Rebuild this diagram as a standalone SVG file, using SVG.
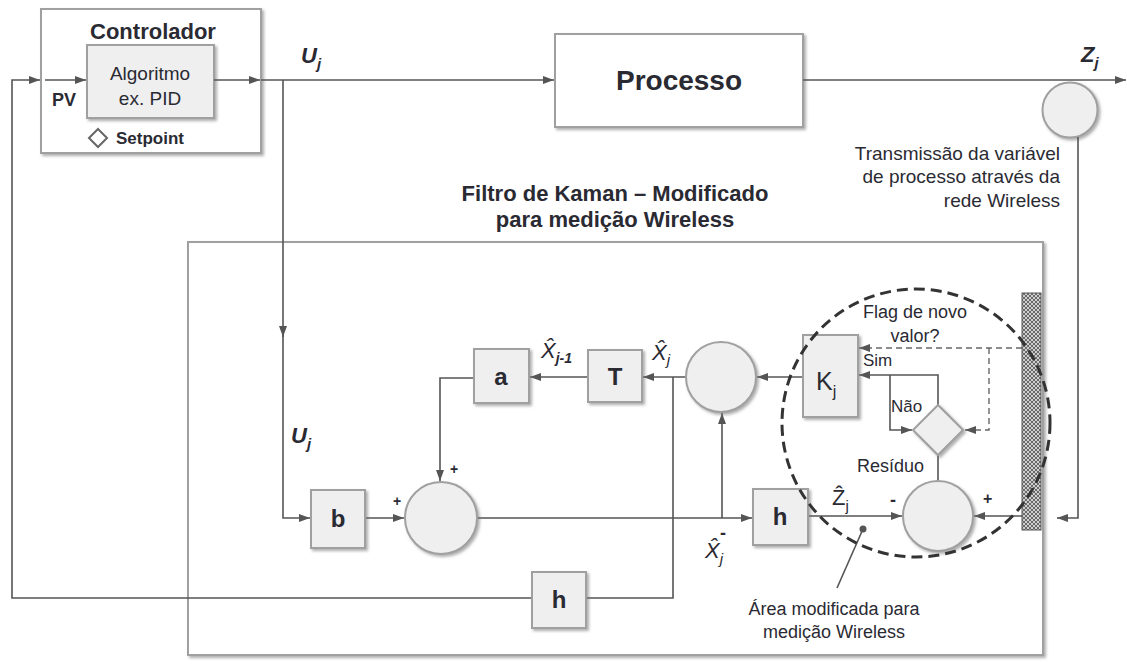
<svg xmlns="http://www.w3.org/2000/svg" width="1127" height="664" viewBox="0 0 1127 664">
<defs>
<filter id="sh" x="-10%" y="-10%" width="130%" height="130%">
<feDropShadow dx="2" dy="2" stdDeviation="1.5" flood-color="#777" flood-opacity="0.6"/>
</filter>
<marker id="ar" markerUnits="userSpaceOnUse" markerWidth="11" markerHeight="8" refX="11" refY="4" orient="auto">
<path d="M0,0 L11,4 L0,8 z" fill="#555"/>
</marker>
<pattern id="hatch" patternUnits="userSpaceOnUse" width="4" height="4">
<rect width="4" height="4" fill="#6a6a6a"/>
<path d="M0,0 L4,4 M4,0 L0,4" stroke="#d8d8d8" stroke-width="0.9"/>
</pattern>
<style>
.big{fill:#fff;stroke:#a0a0a0;stroke-width:2;filter:url(#sh)}
.blk{fill:#efefef;stroke:#a0a0a0;stroke-width:2;filter:url(#sh)}
.c{fill:none;stroke:#555;stroke-width:1.6}
.d{fill:none;stroke:#666;stroke-width:1.4;stroke-dasharray:6 4}
.t{font-family:"Liberation Sans",Arial,sans-serif;fill:#2a2a33}
.b{font-weight:bold}
.i{font-style:italic}
.m{text-anchor:middle}
.e{text-anchor:end}
.bl{font-family:"Liberation Sans",Arial,sans-serif;font-weight:bold;font-size:24px;fill:#2a2a33;text-anchor:middle}
</style>
</defs>
<rect width="1127" height="664" fill="#fff"/>

<g id="filter-box">
<rect class="big" x="188" y="242" width="855" height="413"/>
<text class="t b m" x="615" y="201" font-size="22">Filtro de Kaman – Modificado</text>
<text class="t b m" x="615" y="227" font-size="22">para medição Wireless</text>
</g>

<g id="controlador">
<rect class="big" x="41" y="9" width="220" height="144"/>
<text class="t b m" x="153" y="39" font-size="22">Controlador</text>
<text class="t b" x="52" y="106" font-size="18">PV</text>
<polygon points="98,129 107,138 98,147 89,138" fill="#fff" stroke="#666" stroke-width="2"/>
<text class="t b" x="116" y="144" font-size="17">Setpoint</text>
</g>
<g id="algoritmo">
<rect class="blk" x="87" y="45" width="127" height="73"/>
<text class="t m" x="150" y="80" font-size="19" fill="#444">Algoritmo</text>
<text class="t m" x="150" y="105" font-size="19" fill="#444">ex. PID</text>
</g>

<g id="processo">
<rect class="big" x="555" y="34" width="248" height="93"/>
<text class="t b m" x="679" y="90" font-size="28">Processo</text>
</g>

<g id="sensor">
<circle class="blk" cx="1070" cy="110" r="27.5"/>
<text class="t e" x="1060" y="160" font-size="19">Transmissão da variável</text>
<text class="t e" x="1060" y="183" font-size="19">de processo através da</text>
<text class="t e" x="1060" y="207" font-size="19">rede Wireless</text>
</g>

<g id="connectors">
<path class="c" d="M532,598 H12 V80 H40" marker-end="url(#ar)"/>
<path class="c" d="M45,80 H86" marker-end="url(#ar)"/>
<path class="c" d="M214,80 H260" marker-end="url(#ar)"/>
<path class="c" d="M261,80 H554" marker-end="url(#ar)"/>
<path class="c" d="M283,80 V337" marker-end="url(#ar)"/>
<path class="c" d="M283,330 V518 H310" marker-end="url(#ar)"/>
<path class="c" d="M365,518 H404" marker-end="url(#ar)"/>
<path class="c" d="M477,518 H752" marker-end="url(#ar)"/>
<path class="c" d="M722,518 V413" marker-end="url(#ar)"/>
<path class="c" d="M803,377 H757" marker-end="url(#ar)"/>
<path class="c" d="M686,377 H643" marker-end="url(#ar)"/>
<path class="c" d="M588,377 H530" marker-end="url(#ar)"/>
<path class="c" d="M474,378 H440 V481" marker-end="url(#ar)"/>
<path class="c" d="M673,377 V598 H586"/>
<path class="c" d="M808,516 H902" marker-end="url(#ar)"/>
<path class="c" d="M1022,516 H974" marker-end="url(#ar)"/>
<path class="c" d="M938,481 V455"/>
<path class="c" d="M938,405 V375 H859" marker-end="url(#ar)"/>
<path class="c" d="M890,375 V430 H912" marker-end="url(#ar)"/>
<path class="d" d="M1022,348 H859" marker-end="url(#ar)"/>
<path class="d" d="M989,348 V430 H965" marker-end="url(#ar)"/>
<path class="c" d="M803,80 H1126" marker-end="url(#ar)"/>
<path class="c" d="M1078,137 V518 H1057" marker-end="url(#ar)"/>
<line class="c" x1="863" y1="529" x2="837" y2="588" stroke-width="1.2"/>
<circle cx="863" cy="529" r="3.5" fill="#555"/>
</g>

<g id="bar">
<rect x="1022" y="293" width="19" height="237" fill="url(#hatch)" stroke="#555" stroke-width="1"/>
</g>

<g id="box-a">
<rect class="blk" x="474" y="349" width="55" height="54"/>
<text class="bl" x="501" y="385">a</text>
</g>
<g id="box-T">
<rect class="blk" x="588" y="350" width="54" height="52"/>
<text class="bl" x="615" y="385">T</text>
</g>
<g id="box-b">
<rect class="blk" x="311" y="490" width="54" height="58"/>
<text class="bl" x="338" y="527">b</text>
</g>
<g id="sum-1">
<circle class="blk" cx="441" cy="518" r="36"/>
<text class="t b" x="393" y="506" font-size="14">+</text>
<text class="t b" x="450" y="474" font-size="14">+</text>
</g>
<g id="sum-update">
<circle class="blk" cx="721" cy="377" r="35"/>
</g>
<g id="box-h-mid">
<rect class="blk" x="753" y="489" width="55" height="56"/>
<text class="bl" x="780" y="525">h</text>
</g>
<g id="box-h-bottom">
<rect class="blk" x="532" y="572" width="54" height="56"/>
<text class="bl" x="559" y="608">h</text>
</g>
<g id="box-K">
<rect class="blk" x="803" y="335" width="55" height="82"/>
<text class="t" x="816" y="390" font-size="25">K<tspan font-size="16" dy="7">j</tspan></text>
</g>
<g id="decision">
<polygon class="blk" points="938,405 963,430 938,455 913,430"/>
<text class="t m" x="915" y="318" font-size="18" fill="#333">Flag de novo</text>
<text class="t m" x="915" y="342" font-size="18" fill="#333">valor?</text>
<text class="t" x="863" y="366" font-size="17" fill="#333">Sim</text>
<text class="t" x="891" y="412" font-size="17" fill="#333">Não</text>
<text class="t" x="857" y="472" font-size="18" fill="#333">Resíduo</text>
</g>
<g id="sum-residual">
<circle class="blk" cx="938" cy="516" r="35"/>
<text class="t b" x="890" y="506" font-size="18">-</text>
<text class="t b" x="983" y="504" font-size="16">+</text>
</g>

<g id="labels">
<text class="t b i" x="301" y="63" font-size="22">U<tspan font-size="15" dy="6">j</tspan></text>
<text class="t b i" x="291" y="443" font-size="22">U<tspan font-size="15" dy="6">j</tspan></text>
<text class="t b i" x="1081" y="62" font-size="22">Z<tspan font-size="15" dy="6">j</tspan></text>
<text class="t i" x="541" y="358" font-size="22">X̂<tspan class="b" font-size="14" dy="5">j-1</tspan></text>
<text class="t i" x="652" y="360" font-size="22">X̂<tspan font-size="15" dy="5">j</tspan></text>
<text class="t i" x="705" y="558" font-size="22">X̂<tspan font-size="15" dy="6">j</tspan><tspan font-size="18" font-weight="bold" font-style="normal" dx="-3" dy="-25">-</tspan></text>
<text class="t" x="832" y="505" font-size="22">Ẑ<tspan font-size="15" dy="6">j</tspan></text>
<text class="t m" x="834" y="615" font-size="18" fill="#333">Área modificada para</text>
<text class="t m" x="834" y="638" font-size="18" fill="#333">medição Wireless</text>
</g>

<g id="modified-area">
<circle cx="916" cy="423" r="134" fill="none" stroke="#333" stroke-width="3" stroke-dasharray="11 6"/>
</g>
</svg>
